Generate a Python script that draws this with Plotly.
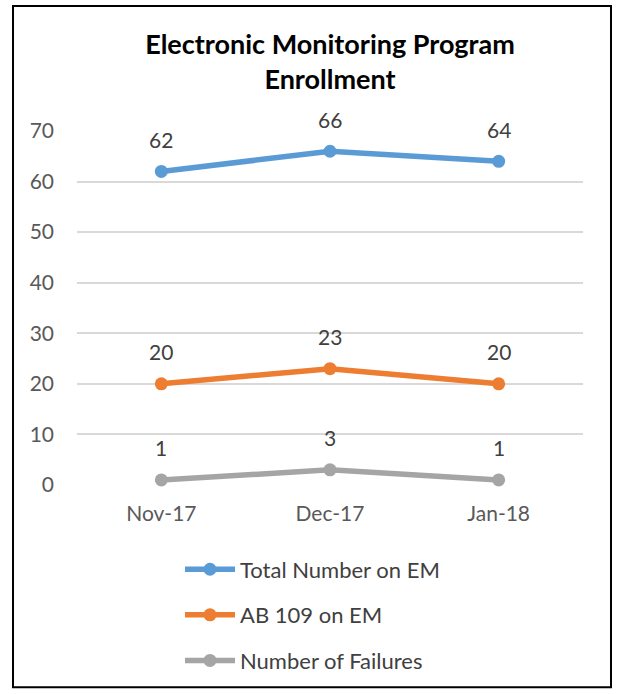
import plotly.graph_objects as go

categories = ["Nov-17", "Dec-17", "Jan-18"]
total_em = [62, 66, 64]
ab109_em = [20, 23, 20]
failures = [1, 3, 1]
series_names = ["Total Number on EM", "AB 109 on EM", "Number of Failures"]
colors = ["#5B9BD5", "#ED7D31", "#A5A5A5"]
y_ticks = [0, 10, 20, 30, 40, 50, 60, 70]

FONT = "Lato, Calibri, Carlito, sans-serif"
W, H = 618, 694
L, R, T, B = 77, 35, 131, 206

fig = go.Figure()
for i, (name, vals) in enumerate(zip(series_names, [total_em, ab109_em, failures])):
    fig.add_trace(go.Scatter(
        x=categories, y=vals, name=name, mode="lines+markers",
        line=dict(color=colors[i], width=5.5),
        marker=dict(color=colors[i], size=13),
        legendgroup=f"g{i}", cliponaxis=False,
    ))
    for c, v in zip(categories, vals):
        fig.add_annotation(x=c, y=v, text=str(v), showarrow=False, yshift=32,
                           font=dict(family=FONT, size=21, color="#404040"))

pw = W - L - R
ph = H - T - B
def px_x(p):
    return (p - L) / pw
def px_y(p):
    return (H - B - p) / ph

fig.add_shape(type="rect", xref="paper", yref="paper",
              x0=px_x(13), x1=px_x(611), y0=px_y(692), y1=px_y(5),
              line=dict(color="black", width=2), fillcolor="rgba(0,0,0,0)", layer="above")

fig.update_layout(
    width=W, height=H,
    margin=dict(l=L, r=R, t=T, b=B),
    paper_bgcolor="white", plot_bgcolor="white",
    title=dict(text="<b>Electronic Monitoring Program<br>Enrollment</b>",
               x=0.5, xanchor="center", xref="paper", y=1 - 54 / H, yanchor="top",
               font=dict(family=FONT, size=27, color="black")),
    font=dict(family=FONT, size=21, color="#595959"),
    showlegend=True,
    legend=dict(orientation="v", x=px_x(180), xanchor="left", y=px_y(552), yanchor="top",
                font=dict(family=FONT, size=22, color="#404040"),
                tracegroupgap=14, itemwidth=50, bgcolor="rgba(0,0,0,0)"),
    xaxis=dict(range=[-0.5, 2.5], showgrid=False, showline=False, zeroline=False, ticks="",
               tickfont=dict(size=21, color="#595959"), ticklabelstandoff=14),
    yaxis=dict(range=[0, 70], tickvals=y_ticks, showgrid=True, gridcolor="#D9D9D9",
               gridwidth=1.5, zeroline=False, showline=False, ticks="",
               tickfont=dict(size=21, color="#595959"), ticklabelstandoff=22),
)
fig.write_html("out.html", config={"displayModeBar": False},
               post_script="document.body.style.margin='0px';")
